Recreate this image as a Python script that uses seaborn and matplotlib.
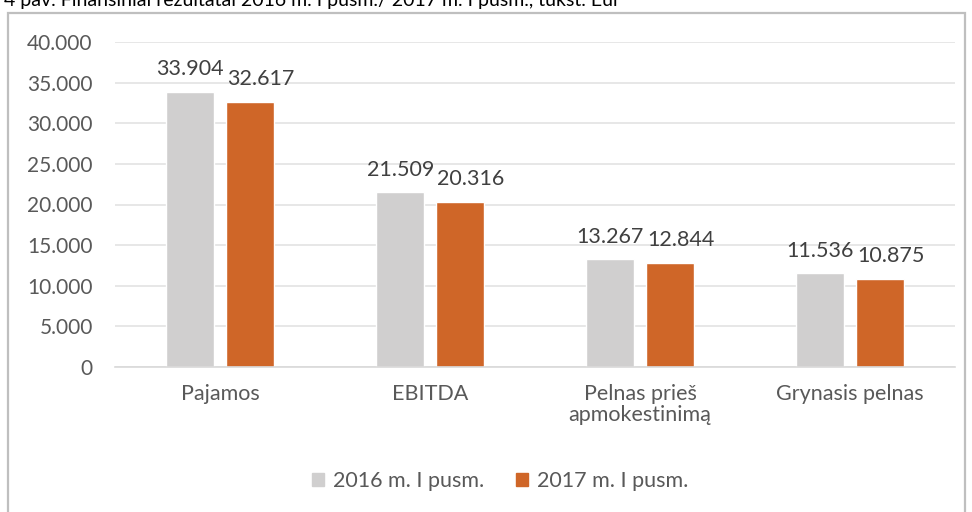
import matplotlib
matplotlib.use("Agg")
import matplotlib.pyplot as plt
import seaborn as sns
import pandas as pd
from matplotlib.patches import Rectangle
from matplotlib.ticker import FixedLocator, FuncFormatter

categories = ["Pajamos", "EBITDA", "Pelnas prieš\napmokestinimą", "Grynasis pelnas"]
series_names = ["2016 m. I pusm.", "2017 m. I pusm."]
values_2016 = [33904, 21509, 13267, 11536]
values_2017 = [32617, 20316, 12844, 10875]
yticks = [0, 5000, 10000, 15000, 20000, 25000, 30000, 35000, 40000]
title = "4 pav. Finansiniai rezultatai 2016 m. I pusm./ 2017 m. I pusm., tūkst. Eur"
colors = ["#D0CFCF", "#CF6628"]

df = pd.DataFrame({
    "cat": categories * 2,
    "series": [series_names[0]] * 4 + [series_names[1]] * 4,
    "value": values_2016 + values_2017,
})

sns.set_theme(style="white")
plt.rcParams["font.family"] = ["Lato", "DejaVu Sans"]

def fmt(v):
    return f"{int(round(v)):,}".replace(",", ".")

fig = plt.figure(figsize=(9.72, 5.12), dpi=100)
ax = fig.add_axes([115 / 972, 1 - 367 / 512, (955 - 115) / 972, (367 - 42) / 512])

sns.barplot(data=df, x="cat", y="value", hue="series", palette=colors,
            width=0.567, gap=0.19, ax=ax, legend=False, saturation=1)

ax.set_ylim(0, 40000)
ax.set_xlim(-0.5, 3.5)
ax.yaxis.set_major_locator(FixedLocator(yticks))
ax.yaxis.set_major_formatter(FuncFormatter(lambda v, p: fmt(v)))
ax.grid(axis="y", color="#E3E3E3", linewidth=1.2)
ax.set_axisbelow(True)
for s in ["top", "right", "left"]:
    ax.spines[s].set_visible(False)
ax.spines["bottom"].set_color("#D9D9D9")
ax.spines["bottom"].set_linewidth(1.2)
ax.set_xlabel("")
ax.set_ylabel("")
ax.tick_params(axis="y", length=0, labelsize=15, labelcolor="#595959", pad=16)
ax.tick_params(axis="x", which="major", length=0, labelsize=15.5, labelcolor="#595959", pad=12)
ax.set_xticks([-0.5, 0.5, 1.5, 2.5, 3.5], minor=True)
ax.tick_params(axis="x", which="minor", length=6, color="#D9D9D9", width=1.2)
for lab in ax.get_xticklabels():
    lab.set_linespacing(1.1)

# 2016 labels centred over bars; 2017 labels nudged right (as in the original)
c2016, c2017 = ax.containers[0], ax.containers[1]
ax.bar_label(c2016, labels=[fmt(v) for v in c2016.datavalues], padding=9,
             fontsize=15.5, color="#404040")
for rect, v in zip(c2017.patches, c2017.datavalues):
    ax.annotate(fmt(v), xy=(rect.get_x(), rect.get_height()), xytext=(1, 9),
                textcoords="offset points", ha="left", va="bottom",
                fontsize=15.5, color="#404040")

handles = [Rectangle((0, 0), 1, 1, color=c) for c in colors]
fig.legend(handles, series_names, loc="center", bbox_to_anchor=(500 / 972, 1 - 481 / 512),
           ncol=2, frameon=False, fontsize=15.5, labelcolor="#595959",
           handlelength=0.55, handleheight=0.55, handletextpad=0.42, columnspacing=1.5)

fig.patches.append(Rectangle((8 / 972, -0.05), (965 - 8) / 972, 1.05 - 13 / 512,
                             transform=fig.transFigure, fill=False,
                             edgecolor="#BFBFBF", linewidth=1.6))
fig.text(4 / 972, 1 - 6 / 512, title, fontsize=14, color="#000000",
         ha="left", va="baseline")

fig.savefig("out.png", dpi=100)
